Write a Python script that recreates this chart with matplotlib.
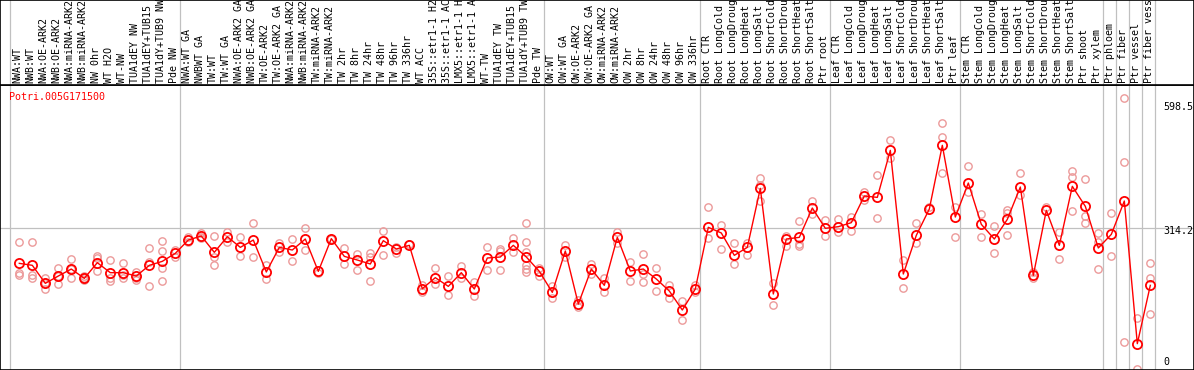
import matplotlib.pyplot as plt


labels = [
    "NWA:WT", "NWB:WT", "NWA:OE-ARK2", "NWB:OE-ARK2", "NWA:miRNA-ARK2", "NWB:miRNA-ARK2",
    "NW 0hr", "WT H2O", "WT-NW", "TUA1dEY NW", "TUA1dEY+TUB15 NW", "TUA1dY+TUB9 NW", "Pde NW",
    "NWA:WT GA", "NWBWT GA", "TW:WT", "TW:WT GA", "NWA:OE-ARK2 GA", "NWB:OE-ARK2 GA",
    "TW:OE-ARK2", "TW:OE-ARK2 GA", "NWA:miRNA-ARK2", "NWB:miRNA-ARK2", "TW:miRNA-ARK2",
    "TW:miRNA-ARK2", "TW 2hr", "TW 8hr", "TW 24hr", "TW 48hr", "TW 96hr", "TW 336hr", "WT ACC",
    "35S::etr1-1 H2O", "35S::etr1-1 ACC", "LMX5::etr1-1 H2O", "LMX5::etr1-1 ACC", "WT-TW",
    "TUA1dEY TW", "TUA1dEY+TUB15 TW", "TUA1dY+TUB9 TW", "Pde TW",
    "OW:WT", "OW:WT GA", "OW:OE-ARK2", "OW:OE-ARK2 GA", "OW:miRNA-ARK2", "OW:miRNA-ARK2",
    "OW 2hr", "OW 8hr", "OW 24hr", "OW 48hr", "OW 96hr", "OW 336hr",
    "Root CTR", "Root LongCold", "Root LongDrought", "Root LongHeat", "Root LongSalt",
    "Root ShortCold", "Root ShortDrought", "Root ShortHeat", "Root ShortSalt", "Ptr root",
    "Leaf CTR", "Leaf LongCold", "Leaf LongDrought", "Leaf LongHeat", "Leaf LongSalt",
    "Leaf ShortCold", "Leaf ShortDrought", "Leaf ShortHeat", "Leaf ShortSalt", "Ptr leaf",
    "Stem CTR", "Stem LongCold", "Stem LongDrought", "Stem LongHeat", "Stem LongSalt",
    "Stem ShortCold", "Stem ShortDrought", "Stem ShortHeat", "Stem ShortSalt", "Ptr shoot",
    "Ptr xylem", "Ptr phloem", "Ptr fiber", "Ptr vessel", "Ptr fiber vessel",
]

means = [
    237.6, 233.3, 193.9, 209.9, 225.2, 204.8, 239.1, 217.2, 217.2, 209.9, 233.3, 242.0, 259.5,
    288.6, 297.4, 261.7, 295.9, 272.6, 288.6, 218.7, 272.6, 266.8, 290.8, 220.1, 291.6, 252.9,
    244.9, 236.2, 287.2, 269.0, 277.0, 182.2, 206.3, 187.3, 217.2, 181.5, 249.3, 251.5, 277.0,
    251.5, 220.1, 174.2, 264.6, 148.7, 225.2, 189.5, 294.5, 220.9, 225.2, 203.4, 177.1, 135.6,
    181.5, 316.4, 304.0, 255.1, 272.6, 401.6, 170.6, 290.8, 294.5, 358.6, 314.2, 317.8, 326.6,
    384.9, 381.9, 484.7, 214.3, 298.9, 356.4, 495.7, 338.9, 413.3, 322.9, 290.8, 333.8, 404.5,
    211.4, 353.5, 277.0, 406.0, 362.3, 271.2, 301.0, 373.9, 62.0, 189.5,
]

reps = [
    [283.5, 217.2, 212.1], [283.5, 212.1, 204.8], [204.8, 193.9, 180.8], [227.4, 209.9, 191.7],
    [247.1, 225.2, 204.8], [209.9, 204.8, 201.9], [254.4, 248.6, 220.9], [244.2, 204.8, 199.0],
    [238.4, 212.1, 206.3], [217.9, 204.8, 201.2], [271.9, 241.3, 187.3],
    [286.5, 264.6, 226.7, 199.0], [266.8, 251.5],
    [295.2, 285.0], [303.2, 295.9, 292.3], [297.4, 251.5, 233.3], [306.9, 285.0], [294.5, 252.9],
    [325.8, 251.5], [234.0, 202.6], [282.8, 263.1], [290.8, 242.7], [314.2, 266.8], [215.8],
    [291.6], [270.4, 236.2], [258.8, 223.0], [259.5, 250.7, 199.0], [308.3, 255.8],
    [274.1, 259.5], [279.2], [190.2, 174.2], [227.4, 193.2], [209.9, 169.1], [231.8, 204.8],
    [197.5, 166.9], [272.6, 222.3], [268.2, 264.6, 222.3], [292.3, 263.1],
    [325.8, 283.5, 263.1, 234.0, 225.2, 217.9], [226.7, 209.9],
    [188.1, 162.5], [277.7, 252.2], [157.4, 141.4], [236.2, 213.6], [206.3, 174.2],
    [306.9, 281.4], [241.3, 199.0], [257.3, 213.6, 196.1], [227.4, 176.4], [190.2, 161.1],
    [155.3, 113.0], [190.2, 175.7],
    [360.1, 293.8], [321.5, 269.0], [281.4, 236.2], [281.4, 255.1], [423.5, 408.9, 374.7],
    [193.9, 146.5], [298.1, 274.8], [330.2, 279.2, 276.3], [373.9, 344.8], [331.7, 296.7],
    [333.8, 306.9], [339.7, 308.3], [394.3, 375.4], [430.8, 336.0], [507.3, 468.7],
    [244.9, 184.4], [325.1, 281.4], [360.8], [543.8, 513.2, 434.4], [360.1, 294.5],
    [450.5, 394.3], [345.5, 294.5], [319.3, 260.2], [354.3, 347.0, 299.6], [434.4, 387.1],
    [219.4, 204.8], [361.5], [306.9, 247.1], [439.5, 425.7, 352.1], [421.3, 341.1, 325.8],
    [304.7, 285.0, 225.2], [347.0, 252.9], [598.5, 458.5, 65.6], [118.8, 6.6],
    [237.6, 205.6, 126.8],
]

group_lines = [-0.7, 12.38, 40.38, 52.38, 62.38, 72.38, 83.38, 84.38, 85.38, 86.38, 87.38]
ref_value = 314.2
tick_values = [598.5, 314.2, 0]
tick_offsets = [-9, -3, 10]

FONT = 'DejaVu Sans Mono'
FS = 7.2

fig = plt.figure(figsize=(11.94, 3.70), dpi=100)
ax = fig.add_axes([0, 0, 1, 285 / 370])
ax_lab = fig.add_axes([0, 285 / 370, 1, 85 / 370], sharex=ax)

xs = list(range(len(means)))
ax.set_xlim(-1.485, 90.36)
ax.set_ylim(4.4, 627.6)
ax_lab.set_ylim(0, 1)

for a in (ax, ax_lab):
    a.set_xticks([])
    a.set_yticks([])
    for s in a.spines.values():
        s.set_color('black')
        s.set_linewidth(1.2)
    for g in group_lines:
        a.axvline(g, color='#c0c0c0', lw=0.9, zorder=1)

ax.axhline(ref_value, color='#c0c0c0', lw=0.9, zorder=1)

# replicates
for i, r in enumerate(reps):
    ax.plot([i] * len(r), r, linestyle='none', marker='o', ms=5.3, mfc='none',
            mec='#ec9a9a', mew=1.0, zorder=2)

# means
ax.plot(xs, means, color='red', lw=1.0, marker='o', ms=6.6, mfc='none',
        mec='red', mew=1.3, zorder=3)

ax.text(9.5 / 1194, 1 - 12 / 285, 'Potri.005G171500', transform=ax.transAxes,
        color='red', fontfamily=FONT, fontsize=FS, ha='left', va='center')

for v, off in zip(tick_values, tick_offsets):
    ax.annotate(str(v), xy=(1163 / 1194, v), xycoords=('axes fraction', 'data'),
                xytext=(0, off), textcoords='offset pixels',
                fontfamily=FONT, fontsize=FS, ha='left', va='center')

for i, lab in enumerate(labels):
    ax_lab.text(i - 0.12, 2 / 85, lab, rotation=90, ha='center', va='bottom',
                fontfamily=FONT, fontsize=FS, clip_on=True)

fig.savefig('out.png', dpi=100)
